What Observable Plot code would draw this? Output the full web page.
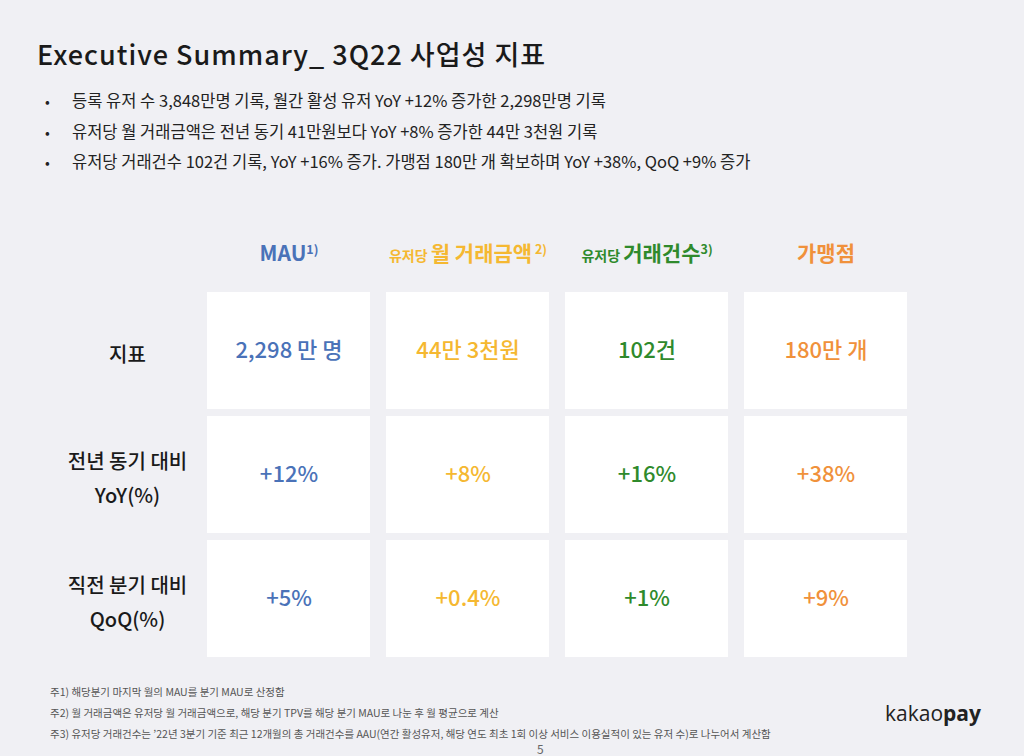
<!DOCTYPE html>
<html><head><meta charset="utf-8">
<script src="https://cdn.jsdelivr.net/npm/d3@7"></script>
<script src="https://cdn.jsdelivr.net/npm/@observablehq/plot@0.6"></script>
<style>
html,body{margin:0;padding:0;background:#f0f0f4;}
body{width:1024px;height:756px;position:relative;overflow:hidden;font-family:"Noto Sans CJK KR","Noto Sans",sans-serif;color:#1a1a1a;}
#title{position:absolute;left:37px;top:38px;line-height:32px;font-size:27px;font-weight:500;letter-spacing:1px;white-space:nowrap;}
#bullets{position:absolute;left:45px;top:85px;margin:0;padding:0;list-style:none;font-size:16.5px;color:#222;}
#bullets li{height:30.5px;line-height:30.5px;white-space:nowrap;}
#bullets li .dot{display:inline-block;width:27px;font-size:14px;}
#chart{position:absolute;left:0;top:220px;}
#notes{position:absolute;left:50px;top:686px;font-size:10.5px;color:#555;white-space:nowrap;}
#notes div{line-height:12px;height:12px;margin-bottom:9px;}
#page{position:absolute;left:537px;top:742px;line-height:13px;font-size:12px;color:#666;}
#logo{position:absolute;left:885px;top:698px;line-height:30px;font-size:21px;color:#222;font-family:"Open Sans",sans-serif;}
</style></head>
<body>
<div id="title">Executive Summary_ 3Q22 사업성 지표</div>
<ul id="bullets"></ul>
<div id="chart"></div>
<div id="notes"></div>
<div id="page">5</div>
<div id="logo">kakao<b>pay</b></div>
<script>
const bulletTexts = [
  "등록 유저 수 3,848만명 기록, 월간 활성 유저 YoY +12% 증가한 2,298만명 기록",
  "유저당 월 거래금액은 전년 동기 41만원보다 YoY +8% 증가한 44만 3천원 기록",
  "유저당 거래건수 102건 기록, YoY +16% 증가. 가맹점 180만 개 확보하며 YoY +38%, QoQ +9% 증가"
];
const footnotes = [
  "주1) 해당분기 마지막 월의 MAU를 분기 MAU로 산정함",
  "주2) 월 거래금액은 유저당 월 거래금액으로, 해당 분기 TPV를  해당 분기 MAU로 나눈 후 월 평균으로 계산",
  "주3) 유저당 거래건수는 ’22년 3분기 기준 최근 12개월의 총 거래건수를 AAU(연간 활성유저, 해당 연도 최초 1회 이상 서비스 이용실적이 있는 유저 수)로 나누어서 계산함"
];
const columns = ["MAU", "TPV", "TXN", "MERCHANT"];
const headerPrefix = ["", "유저당 ", "유저당 ", ""];
const headerMain = ["MAU", "월 거래금액", "거래건수", "가맹점"];
const headerNote = ["1)", " 2)", "3)", ""];
const rowKeys = ["metric", "yoy", "qoq"];
const rowLabels = ["지표", "전년 동기 대비\nYoY(%)", "직전 분기 대비\nQoQ(%)"];
const metricValues = ["2,298 만 명", "44만 3천원", "102건", "180만 개"];
const yoyValues = ["+12%", "+8%", "+16%", "+38%"];
const qoqValues = ["+5%", "+0.4%", "+1%", "+9%"];
const colColors = ["#4a72b8", "#f5b831", "#2f8a2c", "#f0913b"];

d3.select("#bullets").selectAll("li").data(bulletTexts).join("li")
  .html(d => `<span class="dot">•</span>${d}`);
d3.select("#notes").selectAll("div").data(footnotes).join("div").text(d => d);

const valuesByRow = {metric: metricValues, yoy: yoyValues, qoq: qoqValues};
const table = rowKeys.flatMap(r => columns.map((c, i) => ({row: r, col: c, value: valuesByRow[r][i]})));

const plot = Plot.plot({
  width: 1024, height: 450,
  marginTop: 71, marginBottom: 12, marginLeft: 207, marginRight: 117,
  x: {domain: columns, paddingInner: 0.09, paddingOuter: 0, axis: null},
  y: {domain: rowKeys, paddingInner: 0.056, paddingOuter: 0, axis: null},
  color: {domain: columns, range: colColors},
  style: {background: "transparent", fontFamily: "'Noto Sans CJK KR', sans-serif"},
  marks: [
    Plot.cell(table, {x: "col", y: "row", fill: "white"}),
    Plot.text(table, {x: "col", y: "row", text: "value", fill: "col", fontSize: 22, fontWeight: 500}),
    Plot.text(rowKeys, {y: d => d, text: (d, i) => rowLabels[i], frameAnchor: "left", dx: -80,
      textAnchor: "middle", fontSize: 20, lineHeight: 1.7, fill: "#1a1a1a", fontWeight: 500}),
    Plot.text(columns, {x: d => d, text: (d, i) => headerMain[i], frameAnchor: "top", dy: -37,
      lineAnchor: "middle", textAnchor: "middle",
      fill: d => d, fontSize: 21, fontWeight: 600})
  ]
});
document.getElementById("chart").appendChild(plot);

d3.select(plot).selectAll("text").each(function() {
  const t = d3.select(this);
  const i = headerMain.indexOf(this.textContent);
  if (i < 0) return;
  t.text(null);
  if (headerPrefix[i]) t.append("tspan").attr("font-size", 14).text(headerPrefix[i]);
  t.append("tspan").text(headerMain[i]);
  if (headerNote[i]) t.append("tspan").attr("font-size", 12.5).attr("dy", -7).text(headerNote[i]);
});
</script>
</body></html>
